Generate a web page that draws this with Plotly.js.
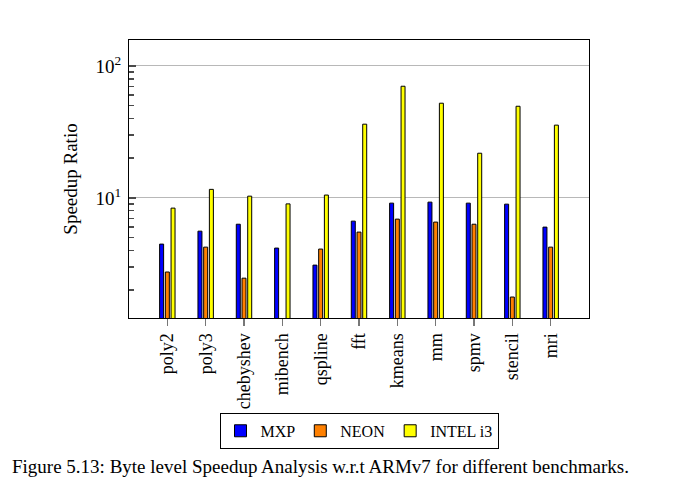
<!DOCTYPE html>
<html>
<head>
<meta charset="utf-8">
<script src="https://cdn.plot.ly/plotly-3.0.1.min.js"></script>
<style>html,body{margin:0;padding:0;background:#fff;}#chart{width:680px;height:496px;}</style>
</head>
<body>
<div id="chart"></div>
<script>
const categories = ["poly2","poly3","chebyshev","mibench","qspline","fft","kmeans","mm","spmv","stencil","mri"];
const mxp   = [4.46, 5.59, 6.31, 4.16, 3.09, 6.66, 9.12, 9.28, 9.12, 8.96, 6.0];
const neon  = [2.74, 4.23, 2.46, null, 4.09, 5.5, 6.9, 6.55, 6.31, 1.77, 4.23];
const intel = [8.36, 11.6, 10.3, 9.0, 10.5, 36.2, 70.2, 52.2, 21.8, 49.5, 35.6];
const seriesNames = ["MXP", "NEON", "INTEL i3"];
const yTickVals = [10, 100];
const yTickText = ["10<sup>1</sup>", "10<sup>2</sup>"];
const yMinorTickVals = [2, 3, 4, 5, 6, 7, 8, 9, 20, 30, 40, 50, 60, 70, 80, 90];
const caption = "Figure 5.13: Byte level Speedup Analysis w.r.t ARMv7 for different benchmarks.";

const FONT = "Liberation Serif, Times New Roman, serif";
const colors = ["#0000ff", "#ff8000", "#ffff00"];
const xIdx = categories.map((c, i) => i);
const yRange = [0.089, 2.197];

const traces = [mxp, neon, intel].map((vals, k) => ({
  type: "bar",
  name: seriesNames[k],
  x: xIdx,
  y: vals,
  marker: {color: colors[k], line: {color: "#000", width: 1}}
}));
// helper trace so the minor-tick axis is drawn
traces.push({type: "scatter", mode: "markers", x: [0], y: [null], yaxis: "y2", showlegend: false, hoverinfo: "skip"});

const layout = {
  width: 680, height: 496,
  margin: {l: 129, r: 91, t: 40, b: 178},
  paper_bgcolor: "#fff", plot_bgcolor: "#fff",
  font: {family: FONT, size: 19, color: "#000"},
  barmode: "group",
  bargap: 0.553,
  bargroupgap: 0.3,
  showlegend: true,
  legend: {
    orientation: "h", x: 0.5, xanchor: "center", y: -0.406, yanchor: "middle",
    bordercolor: "#000", borderwidth: 1, font: {family: FONT, size: 16},
    itemwidth: 30, tracegroupgap: 0
  },
  xaxis: {
    range: [-1, 11],
    tickmode: "array",
    tickvals: xIdx, ticktext: categories,
    tickangle: -90,
    ticks: "outside", ticklen: 7, tickcolor: "#777", tickwidth: 1.5,
    showline: true, linecolor: "#000", linewidth: 1, mirror: true,
    showgrid: false, zeroline: false,
    tickfont: {family: FONT, size: 18}
  },
  yaxis: {
    type: "log",
    range: yRange,
    tickmode: "array",
    tickvals: yTickVals, ticktext: yTickText,
    ticks: "inside", ticklen: 7, tickcolor: "#4a4a4a", tickwidth: 1.5,
    showline: true, linecolor: "#000", linewidth: 1, mirror: true,
    showgrid: true, gridcolor: "#b8b8b8", gridwidth: 1,
    zeroline: false,
    ticklabelstandoff: 3,
    tickfont: {family: FONT, size: 19},
    title: {text: "Speedup Ratio", font: {family: FONT, size: 19}, standoff: 12}
  },
  yaxis2: {
    type: "log",
    range: yRange,
    overlaying: "y", side: "left", anchor: "x",
    tickmode: "array", tickvals: yMinorTickVals,
    showticklabels: false,
    ticks: "inside", ticklen: 5, tickcolor: "#4a4a4a", tickwidth: 1.5,
    showgrid: false, zeroline: false, showline: false
  },
  annotations: [{
    text: caption, xref: "paper", yref: "paper",
    x: (10 - 129) / 460, xanchor: "left",
    y: -0.534, yanchor: "middle",
    showarrow: false, font: {family: FONT, size: 19}
  }]
};

Plotly.newPlot("chart", traces, layout, {displayModeBar: false, staticPlot: true});
</script>
</body>
</html>
